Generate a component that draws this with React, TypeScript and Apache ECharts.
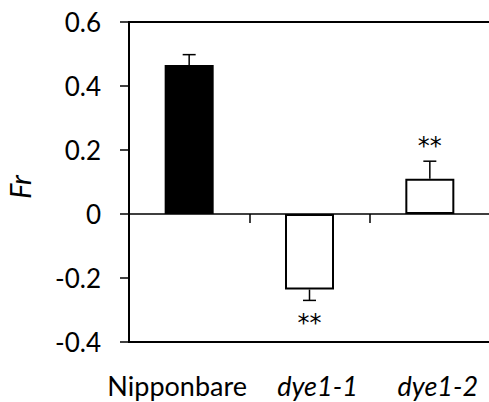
import React, { useEffect, useRef } from "react";
import * as echarts from "echarts";

const categories = ["Nipponbare", "dye1-1", "dye1-2"];
const values = [0.466, -0.236, 0.11];
const errors = [0.032, 0.034, 0.055];
const significance = ["", "**", "**"];
const fills = ["#000000", "#ffffff", "#ffffff"];
const yTicks = [-0.4, -0.2, 0, 0.2, 0.4, 0.6];

const FONT = "Lato";

export default function App() {
  const ref = useRef<HTMLDivElement>(null);
  useEffect(() => {
    document.body.style.margin = "0";
    const chart = echarts.init(ref.current!, null, { renderer: "svg" });
    const errData = values.map((v, i) => [i, v, errors[i]]);
    const starData = values.map((v, i) => [i, v, errors[i]]);
    chart.setOption({
      animation: false,
      backgroundColor: "#ffffff",
      grid: {
        left: 129,
        top: 22,
        width: 361,
        height: 320,
        containLabel: false,
        outerBoundsMode: "none",
        show: true,
        borderColor: "#000",
        borderWidth: 2,
        backgroundColor: "transparent",
      },
      xAxis: [
        {
          type: "category",
          data: categories,
          axisLine: { onZero: true, lineStyle: { color: "#000", width: 1.5 } },
          axisTick: { show: true, length: 9, lineStyle: { color: "#000", width: 1.5 } },
          axisLabel: { show: false },
          splitLine: { show: false },
        },
        {
          type: "category",
          data: categories,
          position: "bottom",
          axisLine: { onZero: false, show: true, lineStyle: { color: "#000", width: 2 } },
          axisTick: { show: false },
          axisLabel: {
            interval: 0,
            hideOverlap: false,
            margin: 30,
            fontFamily: FONT,
            fontSize: 27,
            color: "#000",
            formatter: (v: string) => (v === "Nipponbare" ? `{n|${v}}` : `{i|${v}}`),
            rich: {
              n: { fontFamily: FONT, fontSize: 27, color: "#000", padding: [0, 24, 0, 0] },
              i: { fontFamily: FONT, fontSize: 27, color: "#000", fontStyle: "italic", padding: [0, 0, 0, 16] },
            },
          },
        },
      ],
      yAxis: {
        type: "value",
        min: yTicks[0],
        max: yTicks[yTicks.length - 1],
        interval: 0.2,
        name: "Fr",
        nameLocation: "middle",
        nameGap: 95,
        nameRotate: 90,
        nameTextStyle: { fontFamily: FONT, fontSize: 29, fontStyle: "italic", color: "#000", padding: [0, 0, 0, -10] },
        axisLine: { show: true, lineStyle: { color: "#000", width: 2 } },
        axisTick: { show: true, length: 9, lineStyle: { color: "#000", width: 1.5 } },
        axisLabel: {
          margin: 28,
          fontFamily: FONT,
          fontSize: 26,
          color: "#000",
          formatter: (v: number) => (Math.abs(v) < 1e-9 ? "0" : v.toFixed(1)),
        },
        splitLine: { show: false },
      },
      series: [
        {
          type: "bar",
          xAxisIndex: 0,
          barWidth: 49,
          data: values.map((v, i) => ({
            value: v,
            itemStyle: { color: fills[i], borderColor: "#000", borderWidth: 2 },
          })),
        },
        {
          type: "custom",
          xAxisIndex: 0,
          data: errData,
          z: 3,
          renderItem: (params: any, api: any) => {
            const idx = api.value(0);
            const v = api.value(1);
            const e = api.value(2);
            const s = v >= 0 ? 1 : -1;
            const p0 = api.coord([idx, v]);
            const p1 = api.coord([idx, v + s * e]);
            const st = { stroke: "#000", lineWidth: 1.5 };
            return {
              type: "group",
              children: [
                { type: "line", shape: { x1: p0[0], y1: p0[1], x2: p1[0], y2: p1[1] }, style: st },
                { type: "line", shape: { x1: p1[0] - 6.5, y1: p1[1], x2: p1[0] + 6.5, y2: p1[1] }, style: st },
              ],
            };
          },
        },
        {
          type: "custom",
          xAxisIndex: 0,
          data: starData,
          z: 4,
          renderItem: (params: any, api: any) => {
            const idx = api.value(0);
            const v = api.value(1);
            const e = api.value(2);
            const txt = significance[params.dataIndex];
            if (!txt) return null;
            const s = v >= 0 ? 1 : -1;
            const p = api.coord([idx, v + s * e]);
            return {
              type: "text",
              x: p[0],
              y: p[1] - s * 19 + 4,
              style: {
                text: txt,
                fontFamily: "DejaVu Sans",
                fontSize: 24,
                fill: "#000",
                align: "center",
                verticalAlign: "middle",
              },
            };
          },
        },
      ],
    });
    return () => chart.dispose();
  }, []);
  return <div ref={ref} style={{ width: 489, height: 402 }} />;
}
